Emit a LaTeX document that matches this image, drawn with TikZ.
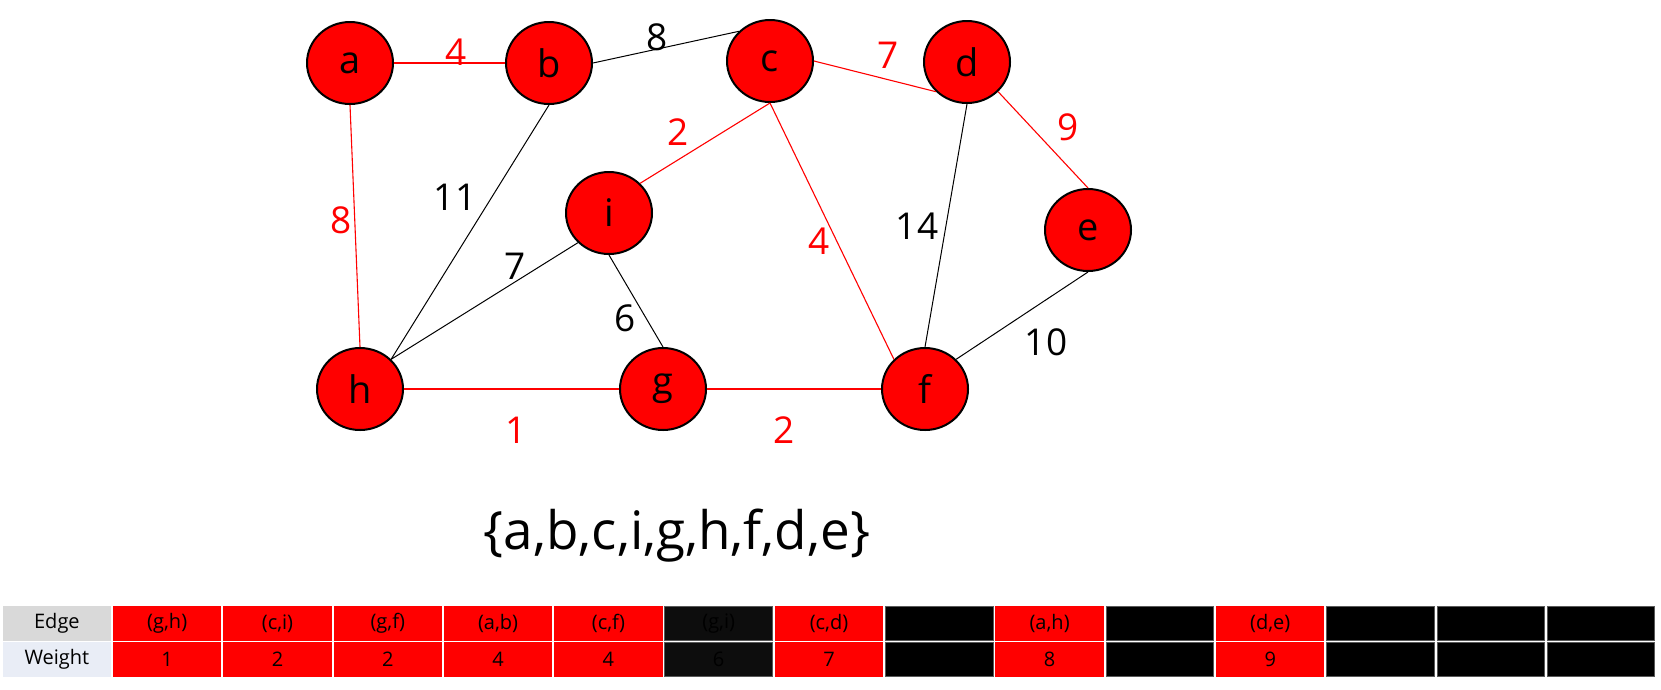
\documentclass[tikz,border=0pt]{standalone}
\usepackage{fontspec}
\setmainfont{Open Sans}
\usetikzlibrary{shapes.geometric}
\definecolor{hdrgray}{HTML}{D9D9D9}
\definecolor{hdrblue}{HTML}{E9EDF6}
\definecolor{darkcell}{HTML}{0D0D0D}
\definecolor{cellline}{HTML}{595959}
\begin{document}
\begin{tikzpicture}[x=1pt,y=-1pt,
  vert/.style={ellipse, draw=black, line width=2pt, fill=red, minimum width=86pt, minimum height=82pt, inner sep=0pt, font=\fontsize{38}{40}\selectfont},
  redge/.style={red, line width=1.1pt},
  bedge/.style={black, line width=1pt},
  rlab/.style={text=red, inner sep=0pt, font=\fontsize{37}{40}\selectfont},
  blab/.style={text=black, inner sep=0pt, font=\fontsize{37}{40}\selectfont},
  cell/.style={minimum width=108.5pt, minimum height=34.7pt, inner sep=0pt, font=\fontsize{20}{22}\selectfont},
  blk/.style={cell, fill=black, draw=cellline, line width=1pt, minimum width=107.5pt, minimum height=33.7pt}]
\useasboundingbox (0,0) rectangle (1661,689);
% vertices
\node[vert] (a) at (350,63) {a};
\node[vert] (b) at (549,63) {b};
\node[vert] (c) at (770,61) {c};
\node[vert] (d) at (967,62) {d};
\node[vert] (e) at (1088,230) {e};
\node[vert] (i) at (609,213) {i};
\node[vert] (h) at (360,389) {h};
\node[vert] (g) at (663,389) {g};
\node[vert] (f) at (925,389) {f};
% edges
\draw[redge] (a.east) -- (b.west);
\draw[bedge] (b.east) -- (c.north west);
\draw[redge] (c.east) -- (d.south west);
\draw[redge] (d.south east) -- (e.north);
\draw[redge] (a.south) -- (h.north);
\draw[bedge] (b.south) -- (h.north east);
\draw[redge] (c.south) -- (i.north east);
\draw[redge] (c.south) -- (f.north west);
\draw[bedge] (d.south) -- (f.north);
\draw[bedge] (e.south) -- (f.north east);
\draw[bedge] (i.south west) -- (h.north east);
\draw[bedge] (i.south) -- (g.north);
\draw[redge] (h.east) -- (g.west);
\draw[redge] (g.east) -- (f.west);
% weights
\node[rlab] (wab) at (456,52) {4};
\node[blab] (wbc) at (657,37) {8};
\node[rlab] (wcd) at (888,55) {7};
\node[rlab] (wde) at (1068,127) {9};
\node[rlab] (wah) at (341,220) {8};
\node[blab] (wbh) at (455,197) {11};
\node[rlab] (wci) at (678,132) {2};
\node[rlab] (wcf) at (819,241) {4};
\node[blab] (wdf) at (917,226) {14};
\node[blab] (wef) at (1046,342) {10};
\node[blab] (wih) at (515,266) {7};
\node[blab] (wig) at (625,318) {6};
\node[rlab] (whg) at (516,430) {1};
\node[rlab] (wgf) at (784,430) {2};
% set
\node[inner sep=0pt, font=\fontsize{53}{58}\selectfont] (set) at (677,536) {\{a,b,c,i,g,h,f,d,e\}};
% table
\node[cell, fill=hdrgray] (e0) at (56.9,623.3) {Edge};
\node[cell, fill=hdrblue] (w0) at (56.9,659.5) {Weight};
\foreach \k/\ed/\wt in {1/{(g,h)}/1, 2/{(c,i)}/2, 3/{(g,f)}/2, 4/{(a,b)}/4, 5/{(c,f)}/4, 7/{(c,d)}/7, 9/{(a,h)}/8, 11/{(d,e)}/9} {
  \node[cell, fill=red] (e\k) at ({56.9+110.3*\k},623.3) {\ed};
  \node[cell, fill=red] (w\k) at ({56.9+110.3*\k},659.5) {\wt};
}
\node[blk, fill=darkcell] (e6) at ({56.9+110.3*6},623.3) {(g,i)};
\node[blk, fill=darkcell] (w6) at ({56.9+110.3*6},659.5) {6};
\foreach \k in {8,10,12,13,14} {
  \node[blk] (e\k) at ({56.9+110.3*\k},623.3) {};
  \node[blk] (w\k) at ({56.9+110.3*\k},659.5) {};
}
\end{tikzpicture}
\end{document}
